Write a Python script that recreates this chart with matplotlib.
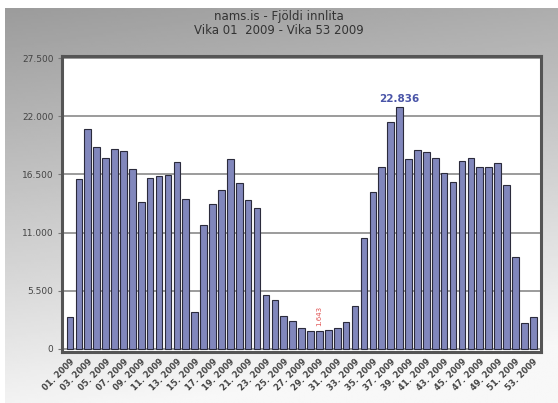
import matplotlib.pyplot as plt
import numpy as np

weeks = list(range(1, 54))
visits = [3040, 16030, 20780, 19110, 18010, 18950, 18730, 17060, 13850, 16120,
          16370, 16430, 17630, 14170, 3460, 11710, 13690, 15020, 17920, 15650,
          14070, 13340, 5090, 4620, 3110, 2640, 1940, 1720, 1643, 1750,
          1940, 2570, 4050, 10450, 14860, 17160, 21470, 22836, 17920, 18800,
          18640, 18100, 16590, 15800, 17760, 18100, 17160, 17160, 17540, 15490,
          8650, 2480, 2990]
yticks = [0, 5500, 11000, 16500, 22000, 27500]
title = "nams.is - Fjöldi innlita\nVika 01  2009 - Vika 53 2009"

def fmt(v):
    return "{:,}".format(v).replace(",", ".")

fig = plt.figure(figsize=(5.58, 4.03), dpi=100)

# grey gradient background panel
bg = fig.add_axes([0, 0, 1, 1], zorder=-10)
yy, xx = np.mgrid[0:1:200j, 0:1:200j]
g = 0.61 + 0.34 * yy + 0.07 * xx
g = np.clip(g, 0, 0.97)
bg.imshow(g, cmap='gray', vmin=0, vmax=1, extent=[0.009, 1, 0, 0.98],
          aspect='auto', origin='upper')
bg.set_xlim(0, 1)
bg.set_ylim(0, 1)
bg.axis('off')

ax = fig.add_axes([0.111, 0.127, 0.859, 0.734])
ax.set_facecolor('white')
x = np.array(weeks)
ax.bar(x, visits, width=0.74, color='#8187bc', edgecolor='#2b2b3c', linewidth=0.8, zorder=3)
ax.set_xlim(0.1, 53.9)
ax.set_ylim(-280, 27700)
ax.set_yticks(yticks)
ax.set_yticklabels([fmt(v) for v in yticks], fontsize=6.5, color='#444444')
ax.yaxis.grid(True, color='#8a8a8a', linewidth=1.2, zorder=1)
ax.tick_params(axis='y', length=3, color='#777777', pad=3)

lab_pos = weeks[::2]
ax.set_xticks(lab_pos)
ax.set_xticklabels(["%02d. 2009" % w for w in lab_pos], rotation=45, ha='right',
                   rotation_mode='anchor', fontsize=6, color='#444444', fontweight='bold')
ax.tick_params(axis='x', length=0, pad=4)

for s in ax.spines.values():
    s.set_color('#555555')
    s.set_linewidth(2.2)

imax = int(np.argmax(visits))
imin = int(np.argmin(visits))
ax.text(weeks[imax], visits[imax] + 350, fmt(visits[imax]), ha='center', va='bottom',
        fontsize=7.5, color='#4a55a8', fontweight='bold', zorder=5)
ax.text(weeks[imin], visits[imin] + 500, fmt(visits[imin]), ha='center', va='bottom',
        rotation=90, fontsize=5, color='#e05050', zorder=5)

fig.text(0.5, 0.975, title, ha='center', va='top', fontsize=8.5, color='#333333',
         linespacing=1.05)

fig.savefig('out.png', dpi=100)
